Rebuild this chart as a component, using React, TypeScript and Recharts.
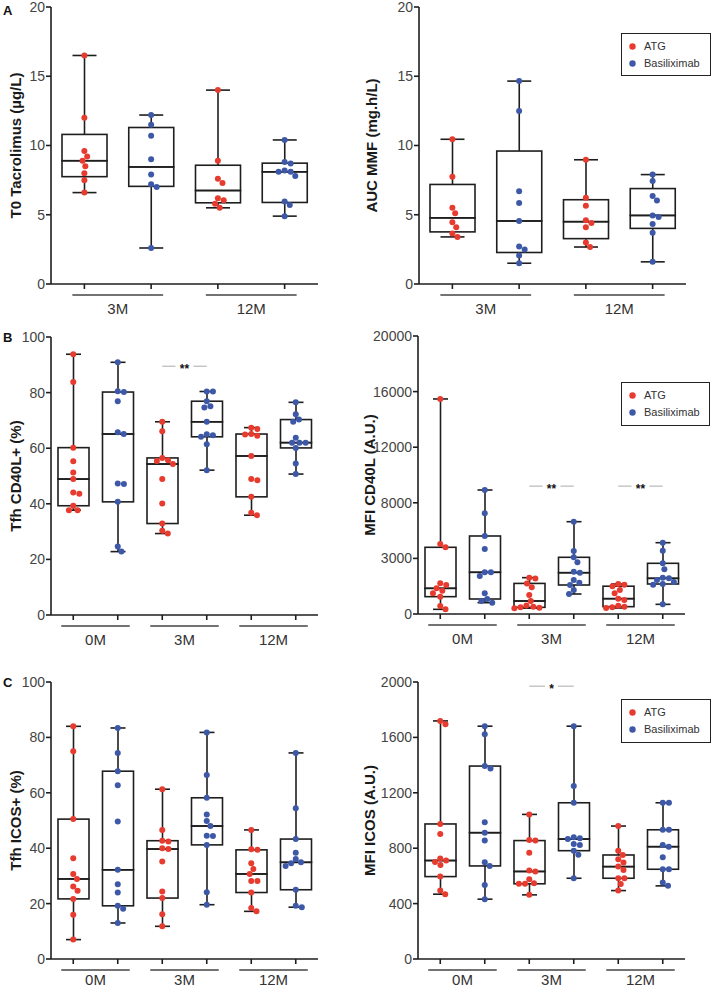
import React from "react";
import { ComposedChart, Bar, Scatter, XAxis, YAxis, ReferenceLine, Legend } from "recharts";

const FONT = '"Liberation Sans", Arial, Helvetica, sans-serif';
const GROUP_NAMES = ["ATG", "Basiliximab"];
const GROUP_COLORS = ["#E63B2E", "#3D58A7"];
const TIMES_A = ["3M", "12M"];
const TIMES_BC = ["0M", "3M", "12M"];

// A left: T0 Tacrolimus (µg/L)
const tacrolimusATG = [
  [16.5, 12.0, 9.6, 9.2, 8.9, 8.5, 8.0, 7.5, 6.6],
  [14.0, 8.9, 7.6, 7.3, 6.2, 6.05, 5.8, 5.5],
];
const tacrolimusBasiliximab = [
  [12.2, 11.5, 10.7, 9.0, 7.9, 7.2, 7.0, 2.6],
  [10.4, 8.8, 8.7, 8.2, 8.1, 8.1, 7.8, 5.95, 5.7, 4.9],
];
const tacrolimusTicks = [0, 5, 10, 15, 20];

// A right: AUC MMF (mg.h/L)
const mmfATG = [
  [10.45, 7.75, 5.5, 5.1, 4.45, 4.1, 3.65, 3.4],
  [8.97, 6.23, 5.65, 4.6, 4.4, 4.1, 3.0, 2.67],
];
const mmfBasiliximab = [
  [14.65, 12.5, 6.7, 5.85, 4.55, 2.7, 2.5, 2.05, 1.5],
  [7.9, 7.43, 6.35, 6.03, 4.95, 4.83, 4.33, 3.7, 1.6],
];
const mmfTicks = [0, 5, 10, 15, 20];

// B left: Tfh CD40L+ (%)
const cd40lPctATG = [
  [93.8, 83.8, 60.2, 55.3, 51.3, 48.9, 44.1, 43.6, 39.3, 37.7, 37.7],
  [69.5, 66.1, 56.5, 55.7, 55.4, 54.3, 48.9, 40.1, 32.9, 30.3, 29.3],
  [67.4, 66.9, 65.1, 64.9, 64.5, 57.2, 48.9, 48.5, 42.5, 36.8, 35.9],
];
const cd40lPctBasiliximab = [
  [90.9, 80.5, 80.2, 76.9, 65.7, 65.1, 47.3, 47.1, 40.7, 24.6, 22.8],
  [80.4, 80.4, 76.9, 75.1, 74.6, 69.5, 65.0, 64.7, 64.1, 61.4, 52.1],
  [76.5, 72.2, 70.3, 69.5, 63.8, 62.0, 62.0, 62.0, 60.1, 54.5, 50.7],
];
const percentTicks = [0, 20, 40, 60, 80, 100];
const cd40lPctSignificance = [{ time: "3M", level: 89.5, mark: "**" }];

// B right: MFI CD40L (A.U.)
const cd40lMfiATG = [
  [15470, 5036, 4799, 2206, 2086, 1847, 1679, 1487, 1247, 575, 336],
  [2614, 2550, 2200, 1918, 1367, 935, 620, 527, 480, 450, 420],
  [2158, 2100, 2000, 1727, 1487, 1103, 1007, 600, 527, 480, 430],
];
const cd40lMfiBasiliximab = [
  [8921, 7242, 5612, 4676, 3000, 3000, 2734, 1487, 1079, 935, 815],
  [6640, 4532, 4079, 3719, 3043, 2971, 2446, 2252, 2086, 1727, 1439],
  [5130, 4556, 3647, 3216, 2614, 2566, 2450, 2300, 2158, 2100, 696],
];
const cd40lMfiTicks = [0, 4000, 8000, 12000, 16000, 20000];
const cd40lMfiTickLabels = ["0", "3000", "8000", "12000", "16000", "20000"];
const cd40lMfiSignificance = [
  { time: "3M", level: 9200, mark: "**" },
  { time: "12M", level: 9200, mark: "**" },
];

// C left: Tfh ICOS+ (%)
const icosPctATG = [
  [84.0, 75.0, 50.5, 36.4, 30.7, 28.9, 26.2, 24.6, 21.7, 16.0, 7.0],
  [61.3, 46.6, 42.7, 42.4, 40.0, 39.7, 35.2, 24.4, 22.0, 16.2, 11.8],
  [46.6, 39.6, 39.4, 34.6, 32.5, 30.7, 28.2, 28.2, 24.0, 18.4, 17.2],
];
const icosPctBasiliximab = [
  [83.4, 74.4, 67.8, 62.7, 49.6, 32.2, 27.0, 24.0, 19.2, 18.1, 13.0],
  [81.8, 66.4, 58.2, 52.2, 49.8, 48.0, 44.5, 44.4, 41.2, 24.1, 19.6],
  [74.4, 54.4, 43.3, 38.4, 36.1, 34.9, 34.6, 33.6, 25.0, 19.2, 18.7],
];

// C right: MFI ICOS (A.U.)
const icosMfiATG = [
  [1719, 1695, 975, 903, 725, 711, 701, 679, 595, 495, 468],
  [1044, 860, 855, 768, 639, 632, 576, 547, 543, 543, 463],
  [960, 782, 751, 720, 696, 667, 643, 583, 583, 542, 494],
];
const icosMfiBasiliximab = [
  [1681, 1623, 1393, 1376, 987, 912, 855, 699, 672, 535, 432],
  [1681, 1249, 1128, 879, 871, 866, 831, 823, 782, 752, 583],
  [1128, 1128, 933, 933, 823, 811, 735, 648, 648, 552, 528],
];
const icosMfiTicks = [0, 400, 800, 1200, 1600, 2000];
const icosMfiSignificance = [{ time: "3M", level: 1970, mark: "*" }];

// ---------- helpers ----------
function quantile(sorted: number[], p: number) {
  const n = sorted.length;
  let pos = p * (n + 1);
  if (pos < 1) pos = 1;
  if (pos > n) pos = n;
  const lo = Math.floor(pos);
  const frac = pos - lo;
  if (lo >= n) return sorted[n - 1];
  return sorted[lo - 1] + frac * (sorted[lo] - sorted[lo - 1]);
}

function boxStats(values: number[]) {
  const s = [...values].sort((a, b) => a - b);
  return {
    min: s[0],
    q1: quantile(s, 0.25),
    med: quantile(s, 0.5),
    q3: quantile(s, 0.75),
    max: s[s.length - 1],
  };
}

function swarm(values: number[], pxPerUnit: number, D: number) {
  const placed: { x: number; y: number }[] = [];
  return values.map((v) => {
    const y = v * pxPerUnit;
    const near = placed.filter((p) => Math.abs(p.y - y) < D);
    const cands = [0];
    near.forEach((p) => {
      const dx = Math.sqrt(Math.max(0, D * D - (p.y - y) ** 2));
      cands.push(p.x + dx, p.x - dx);
    });
    cands.sort((a, b) => Math.abs(a) - Math.abs(b));
    const ok = (c: number) =>
      near.every((p) => (p.x - c) ** 2 + (p.y - y) ** 2 >= D * D - 0.01);
    const x = cands.find(ok) ?? 0;
    placed.push({ x, y });
    return x;
  });
}

const STROKE = "#1e1e1e";
const SW = 1.6;

const EmptyShape = () => <g />;

const makeWhisker = (cap: number, atTop: boolean) => (p: any) => {
  const { x, y, width, height } = p;
  if (x == null || y == null || !isFinite(y) || !isFinite(height)) return <g />;
  const cx = x + width / 2;
  const capY = atTop ? y : y + height;
  return (
    <g>
      <line x1={cx} x2={cx} y1={y} y2={y + height} stroke={STROKE} strokeWidth={SW} />
      <line x1={cx - cap / 2} x2={cx + cap / 2} y1={capY} y2={capY} stroke={STROKE} strokeWidth={SW} />
    </g>
  );
};

const BoxPart = (p: any) => {
  const { x, y, width, height } = p;
  if (x == null || y == null || !isFinite(y) || !isFinite(height)) return <g />;
  return <rect x={x} y={y} width={width} height={Math.max(0, height)} fill="none" stroke={STROKE} strokeWidth={SW} />;
};

const LegendBox = (props: any) => {
  const items = (props.payload || []).filter((it: any) => GROUP_NAMES.includes(it.value));
  return (
    <div
      style={{
        border: "1.3px solid #222",
        width: "100%",
        height: "100%",
        boxSizing: "border-box",
        background: "#fff",
        fontFamily: FONT,
        fontSize: 11,
        color: "#333",
        paddingTop: 4,
      }}
    >
      {items.map((it: any) => {
        const color = GROUP_COLORS[GROUP_NAMES.indexOf(it.value)];
        return (
          <div key={it.value} style={{ display: "flex", alignItems: "center", height: 17 }}>
            <svg width={22} height={17} style={{ display: "block" }}>
              <circle cx={10.5} cy={8.5} r={3.2} fill={color} />
            </svg>
            <span style={{ lineHeight: "17px" }}>{it.value}</span>
          </div>
        );
      })}
    </div>
  );
};

type Sig = { time: string; level: number; mark: string };

type PanelProps = {
  left: number;
  top: number;
  width: number;
  height: number;
  margin: { top: number; right: number; bottom: number; left: number };
  yAxisWidth: number;
  xAxisHeight: number;
  labelDy: number;
  times: string[];
  atg: number[][];
  bas: number[][];
  yMax: number;
  yTicks: number[];
  yTickLabels?: string[];
  title: string;
  titleX: number;
  legend?: { left: number; top: number; width: number; height: number };
  sig?: Sig[];
  boxWidth: number;
  capWidth: number;
};

function Panel(props: PanelProps) {
  const {
    left, top, width, height, margin, yAxisWidth, xAxisHeight, labelDy, times, atg, bas,
    yMax, yTicks, yTickLabels, title, titleX, legend, sig, boxWidth, capWidth,
  } = props;
  const n = times.length * 2;
  const plotW = width - margin.left - margin.right - yAxisWidth;
  const plotH = height - margin.top - margin.bottom - xAxisHeight;
  const bandPx = plotW / n;
  const pxPerUnit = plotH / yMax;
  const groups = [atg, bas];

  const boxData: any[] = [];
  times.forEach((t, ti) => {
    groups.forEach((g, gi) => {
      const s = boxStats(g[ti]);
      boxData.push({
        x: ti * 2 + gi + 0.5,
        base: s.min,
        lw: s.q1 - s.min,
        lb: s.med - s.q1,
        ub: s.q3 - s.med,
        uw: s.max - s.q3,
      });
    });
  });

  const points = groups.map((g, gi) => {
    const pts: any[] = [];
    times.forEach((t, ti) => {
      const offs = swarm(g[ti], pxPerUnit, 6.2);
      g[ti].forEach((v, k) => pts.push({ x: ti * 2 + gi + 0.5, y: v, dx: offs[k] }));
    });
    return pts;
  });

  const xTicks = Array.from({ length: n }, (_, i) => i + 0.5);

  const GroupTick = (p: any) => {
    const { x, y, payload } = p;
    const idx = Math.round(payload.value - 0.5);
    if (idx % 2 !== 0) return <g />;
    const gi = idx / 2;
    const ext = 12;
    return (
      <g>
        <line x1={x - ext} x2={x + bandPx + ext} y1={y + 6} y2={y + 6} stroke="#444" strokeWidth={1.5} />
        <text x={x + bandPx / 2} y={y + labelDy} textAnchor="middle" fontSize={15} fill="#333" fontFamily={FONT}>
          {times[gi]}
        </text>
      </g>
    );
  };

  const YTitle = (p: any) => {
    const vb = p.viewBox || {};
    const cx = (vb.x || 0) + titleX;
    const cy = (vb.y || 0) + (vb.height || 0) / 2;
    return (
      <text
        x={cx}
        y={cy}
        transform={`rotate(-90 ${cx} ${cy})`}
        textAnchor="middle"
        dominantBaseline="central"
        fontSize={15}
        fontWeight="bold"
        fill="#1a1a1a"
        fontFamily={FONT}
      >
        {title}
      </text>
    );
  };

  const SigLabel = (mark: string) => (p: any) => {
    const vb = p.viewBox || {};
    const cx = (vb.x || 0) + (vb.width || 0) / 2;
    const cy = (vb.y || 0) + (vb.height || 0) / 2;
    const w = mark.length * 5 + 8;
    return (
      <g>
        <rect x={cx - w / 2} y={cy - 4} width={w} height={8} fill="#fff" />
        <text x={cx} y={cy + 6.5} textAnchor="middle" fontSize={12} fontWeight="bold" fill="#111" fontFamily={FONT}>
          {mark}
        </text>
      </g>
    );
  };

  return (
    <div style={{ position: "absolute", left, top, width, height }}>
      <ComposedChart width={width} height={height} margin={margin} data={boxData}>
        <XAxis
          dataKey="x"
          type="number"
          domain={[0, n]}
          ticks={xTicks}
          interval={0}
          height={xAxisHeight}
          tickSize={5}
          tickMargin={0}
          axisLine={{ stroke: STROKE, strokeWidth: SW }}
          tickLine={{ stroke: STROKE, strokeWidth: SW }}
          tick={GroupTick}
        />
        <YAxis
          dataKey="y"
          type="number"
          domain={[0, yMax]}
          ticks={yTicks}
          interval={0}
          width={yAxisWidth}
          tickSize={5}
          tickMargin={1}
          axisLine={{ stroke: STROKE, strokeWidth: SW }}
          tickLine={{ stroke: STROKE, strokeWidth: SW }}
          tick={{ fontSize: 14, fill: "#444", fontFamily: FONT }}
          tickFormatter={(v: number) => {
            if (yTickLabels) {
              const i = yTicks.indexOf(v);
              return i >= 0 ? yTickLabels[i] : String(v);
            }
            return String(v);
          }}
          label={YTitle}
        />
        <Bar dataKey="base" stackId="box" barSize={boxWidth} shape={EmptyShape} isAnimationActive={false} legendType="none" />
        <Bar dataKey="lw" stackId="box" barSize={boxWidth} shape={makeWhisker(capWidth, false)} isAnimationActive={false} legendType="none" />
        <Bar dataKey="lb" stackId="box" barSize={boxWidth} shape={BoxPart} isAnimationActive={false} legendType="none" />
        <Bar dataKey="ub" stackId="box" barSize={boxWidth} shape={BoxPart} isAnimationActive={false} legendType="none" />
        <Bar dataKey="uw" stackId="box" barSize={boxWidth} shape={makeWhisker(capWidth, true)} isAnimationActive={false} legendType="none" />
        {(sig || []).map((s, k) => {
          const ti = times.indexOf(s.time);
          return (
            <ReferenceLine
              key={k}
              segment={[
                { x: ti * 2 + 0.5, y: s.level },
                { x: ti * 2 + 1.5, y: s.level },
              ]}
              stroke="#aaa"
              strokeWidth={1}
              label={SigLabel(s.mark)}
            />
          );
        })}
        {groups.map((g, gi) => (
          <Scatter
            key={gi}
            name={GROUP_NAMES[gi]}
            data={points[gi]}
            fill={GROUP_COLORS[gi]}
            isAnimationActive={false}
            shape={(p: any) => (
              <circle cx={p.cx + (p.payload?.dx || 0)} cy={p.cy} r={3} fill={GROUP_COLORS[gi]} />
            )}
          />
        ))}
        {legend && (
          <Legend
            layout="horizontal"
            verticalAlign="middle"
            align="center"
            content={LegendBox}
            wrapperStyle={{ left: legend.left, top: legend.top, width: legend.width, height: legend.height }}
          />
        )}
      </ComposedChart>
    </div>
  );
}

const Letter = ({ text, x, y }: { text: string; x: number; y: number }) => (
  <div
    style={{
      position: "absolute",
      left: x,
      top: y,
      fontFamily: FONT,
      fontWeight: "bold",
      fontSize: 13,
      lineHeight: "13px",
      color: "#111",
    }}
  >
    {text}
  </div>
);

export default function App() {
  return (
    <div style={{ position: "absolute", left: 0, top: 0, width: 714, height: 990, background: "#fff", overflow: "hidden" }}>
      <Panel
        left={0} top={0} width={357} height={320}
        margin={{ top: 7, right: 39, bottom: 0, left: 0 }}
        yAxisWidth={51} xAxisHeight={36} labelDy={25}
        times={TIMES_A} atg={tacrolimusATG} bas={tacrolimusBasiliximab}
        yMax={20} yTicks={tacrolimusTicks}
        title="T0 Tacrolimus (µg/L)" titleX={15}
        boxWidth={45} capWidth={24}
      />
      <Panel
        left={357} top={0} width={357} height={320}
        margin={{ top: 7, right: 28, bottom: 0, left: 0 }}
        yAxisWidth={62} xAxisHeight={36} labelDy={25}
        times={TIMES_A} atg={mmfATG} bas={mmfBasiliximab}
        yMax={20} yTicks={mmfTicks}
        title="AUC MMF (mg.h/L)" titleX={14}
        legend={{ left: 264, top: 33, width: 90, height: 43 }}
        boxWidth={45} capWidth={24}
      />
      <Panel
        left={0} top={320} width={357} height={330}
        margin={{ top: 17, right: 39, bottom: 0, left: 0 }}
        yAxisWidth={51} xAxisHeight={35} labelDy={25}
        times={TIMES_BC} atg={cd40lPctATG} bas={cd40lPctBasiliximab}
        yMax={100} yTicks={percentTicks}
        title="Tfh CD40L+ (%)" titleX={15}
        sig={cd40lPctSignificance}
        boxWidth={31} capWidth={15}
      />
      <Panel
        left={357} top={320} width={357} height={330}
        margin={{ top: 16, right: 29, bottom: 0, left: 0 }}
        yAxisWidth={61} xAxisHeight={36} labelDy={25}
        times={TIMES_BC} atg={cd40lMfiATG} bas={cd40lMfiBasiliximab}
        yMax={20000} yTicks={cd40lMfiTicks} yTickLabels={cd40lMfiTickLabels}
        title="MFI CD40L (A.U.)" titleX={12}
        legend={{ left: 264, top: 62, width: 89, height: 44 }}
        sig={cd40lMfiSignificance}
        boxWidth={31} capWidth={15}
      />
      <Panel
        left={0} top={650} width={357} height={340}
        margin={{ top: 32, right: 39, bottom: 0, left: 0 }}
        yAxisWidth={51} xAxisHeight={31} labelDy={21}
        times={TIMES_BC} atg={icosPctATG} bas={icosPctBasiliximab}
        yMax={100} yTicks={percentTicks}
        title="Tfh ICOS+ (%)" titleX={15}
        boxWidth={31} capWidth={15}
      />
      <Panel
        left={357} top={650} width={357} height={340}
        margin={{ top: 32, right: 29, bottom: 0, left: 0 }}
        yAxisWidth={61} xAxisHeight={31} labelDy={21}
        times={TIMES_BC} atg={icosMfiATG} bas={icosMfiBasiliximab}
        yMax={2000} yTicks={icosMfiTicks}
        title="MFI ICOS (A.U.)" titleX={12}
        legend={{ left: 264, top: 49, width: 90, height: 44 }}
        sig={icosMfiSignificance}
        boxWidth={31} capWidth={15}
      />
      <Letter text="A" x={3} y={4} />
      <Letter text="B" x={3} y={331} />
      <Letter text="C" x={3} y={676} />
    </div>
  );
}
